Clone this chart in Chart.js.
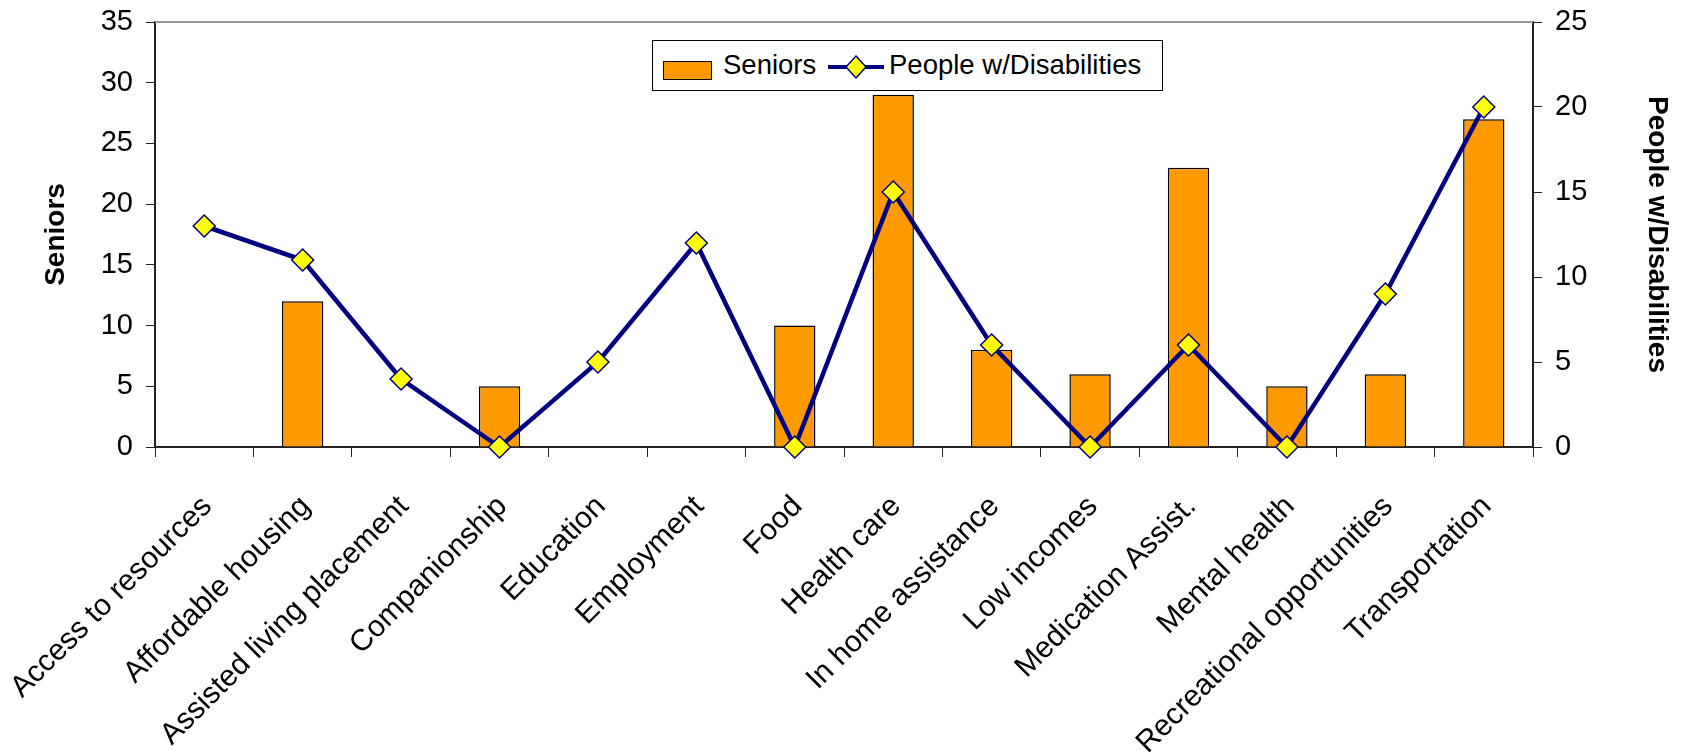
<!DOCTYPE html>
<html>
<head>
<meta charset="utf-8">
<script src="https://cdn.jsdelivr.net/npm/chart.js@4.4.1/dist/chart.umd.min.js"></script>
<style>
  body { margin: 0; background: #fff; }
  #wrap { position: relative; width: 1684px; height: 752px; }
  #legend {
    position: absolute; left: 652px; top: 40px; width: 511px; height: 51px;
    box-sizing: border-box; border: 1.5px solid #000; background: #fff;
    font-family: "Liberation Sans", Arial, sans-serif; font-size: 27.5px; color: #000;
  }
  #legend .item { position: absolute; top: 9px; line-height: 30px; }
  #legend .swatch {
    position: absolute; left: 10px; top: 20px; width: 49px; height: 19px;
    box-sizing: border-box; background: #FF9900; border: 1.5px solid #000;
  }
  #legend svg { position: absolute; left: 175px; top: 10px; }
</style>
</head>
<body>
<div id="wrap">
  <canvas id="myChart" width="1684" height="752"></canvas>
  <div id="legend">
    <span class="swatch"></span>
    <span class="item" style="left:70px">Seniors</span>
    <svg width="56" height="32" viewBox="0 0 56 32">
      <line x1="0" y1="16" x2="56" y2="16" stroke="#000080" stroke-width="4"/>
      <polygon points="28,5 38,16 28,27 18,16" fill="#FFFF00" stroke="#000080" stroke-width="1.5"/>
    </svg>
    <span class="item" style="left:236px">People w/Disabilities</span>
  </div>
</div>
<script>
const labels = ["Access to resources", "Affordable housing", "Assisted living placement", "Companionship",
  "Education", "Employment", "Food", "Health care", "In home assistance", "Low incomes",
  "Medication Assist.", "Mental health", "Recreational opportunities", "Transportation"];
const seniors = [0, 12, 0, 5, 0, 0, 10, 29, 8, 6, 23, 5, 6, 27];
const disabilities = [13, 11, 4, 0, 5, 12, 0, 15, 6, 0, 6, 0, 9, 20];

const family = "'Liberation Sans', Arial, sans-serif";
const font = { family: family, size: 29 };
const xFont = { family: family, size: 30 };
const titleFont = { family: family, size: 28, weight: "bold" };

// gray frame line along the top of the plot
const topLine = {
  id: "topLine",
  afterDraw(chart) {
    const { ctx, chartArea } = chart;
    ctx.save();
    ctx.strokeStyle = "#999";
    ctx.lineWidth = 2;
    ctx.beginPath();
    ctx.moveTo(chartArea.left, chartArea.top);
    ctx.lineTo(chartArea.right, chartArea.top);
    ctx.stroke();
    ctx.restore();
  }
};

const ctx = document.getElementById("myChart").getContext("2d");
new Chart(ctx, {
  type: "bar",
  data: {
    labels: labels,
    datasets: [{
      type: "line",
      label: "People w/Disabilities",
      data: disabilities,
      yAxisID: "y2",
      order: 0,
      borderColor: "#000080",
      borderWidth: 4.5,
      pointStyle: "rectRot",
      pointRadius: 11,
      pointBackgroundColor: "#FFFF00",
      pointBorderColor: "#000080",
      pointBorderWidth: 1.5,
      tension: 0,
      clip: false
    }, {
      label: "Seniors",
      data: seniors,
      yAxisID: "y",
      order: 1,
      backgroundColor: "#FF9900",
      borderColor: "#000",
      borderWidth: 1.5,
      barPercentage: 0.42,
      categoryPercentage: 1
    }]
  },
  options: {
    responsive: false,
    animation: false,
    layout: { padding: { top: 22, right: 0, bottom: 0, left: 0 } },
    plugins: { legend: { display: false }, tooltip: { enabled: false } },
    scales: {
      x: {
        grid: { drawOnChartArea: false, tickLength: 10, color: "#222", offset: true },
        border: { color: "#222", width: 2 },
        ticks: { font: xFont, color: "#000", autoSkip: false, maxRotation: 45, minRotation: 45, padding: 32, labelOffset: 3 },
        afterFit(axis) { axis.height = 305; axis.paddingLeft = 0; axis.paddingRight = 0; }
      },
      y: {
        position: "left",
        min: 0, max: 35,
        grid: { drawOnChartArea: false, tickLength: 9, color: "#222" },
        border: { color: "#222", width: 2 },
        ticks: { stepSize: 5, font: font, color: "#000", padding: 13 },
        title: { display: true, text: "Seniors", font: titleFont, color: "#000", padding: { top: 39, bottom: 0 } },
        afterFit(axis) { axis.width = 155; axis.paddingTop = 0; axis.paddingBottom = 0; }
      },
      y2: {
        position: "right",
        min: 0, max: 25,
        grid: { drawOnChartArea: false, tickLength: 9, color: "#222" },
        border: { color: "#222", width: 2 },
        ticks: { stepSize: 5, font: font, color: "#000", padding: 13 },
        title: { display: true, text: "People w/Disabilities", font: titleFont, color: "#000", padding: { top: 10, bottom: 0 } },
        afterFit(axis) { axis.width = 151; axis.paddingTop = 0; axis.paddingBottom = 0; }
      }
    }
  },
  plugins: [topLine]
});
</script>
</body>
</html>
